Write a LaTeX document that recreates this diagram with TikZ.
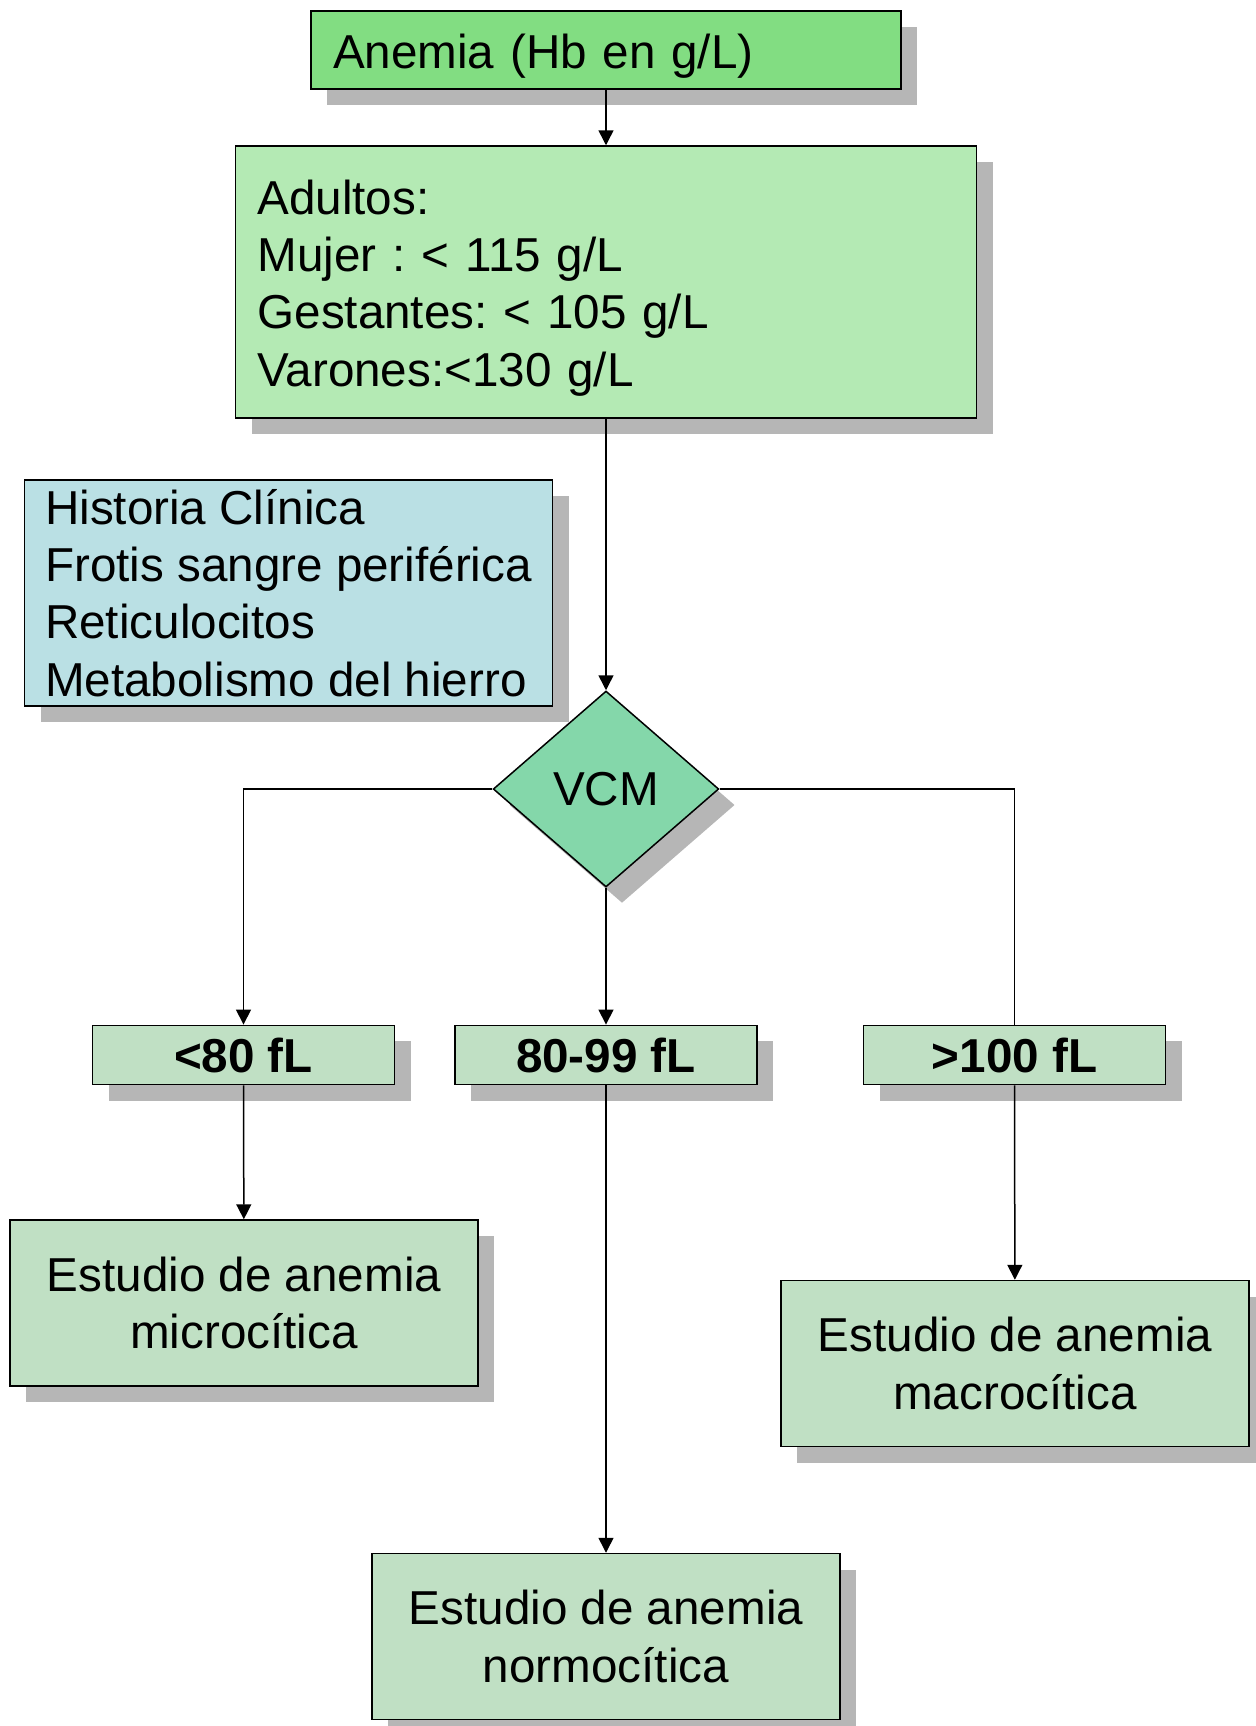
\documentclass[tikz,border=0pt]{standalone}
\usepackage{fontspec}
\setmainfont{Liberation Sans}
\frenchspacing
\usetikzlibrary{shapes.geometric, shadows, arrows.meta, positioning}

\definecolor{verdeAnemia}{RGB}{130,221,130}
\definecolor{verdeAdulto}{RGB}{180,234,180}
\definecolor{azulHistoria}{RGB}{186,224,228}
\definecolor{verdeVCM}{RGB}{132,215,170}
\definecolor{verdeRango}{RGB}{192,224,196}
\definecolor{sombra}{RGB}{182,182,182}

\begin{document}
\begin{tikzpicture}[x=0.5pt,y=-0.5pt,->,>={Triangle[width=7.5pt,length=7.5pt]},line width=0.75pt,
        caja/.style={draw,rectangle,line width=0.75pt,inner sep=0pt,
          drop shadow={shadow xshift=8pt,shadow yshift=-8pt,fill=sombra,opacity=1},
          font=\fontsize{23.8}{28.65}\selectfont},
        rango/.style={caja,fill=verdeRango,minimum width=151pt,minimum height=29.7pt,
          font=\fontsize{23.8}{28.65}\selectfont\bfseries},
        estudio/.style={caja,fill=verdeRango,minimum width=234pt,minimum height=83pt,align=center}]

  \useasboundingbox (0,0) rectangle (1255,1726);

  \node[caja,fill=verdeAnemia,minimum height=39pt,text width=273pt,inner xsep=11pt,align=left]
        (Anemia) at (606,50) {\rule{0pt}{23pt}Anemia (Hb en g/L)};
  \node[caja,fill=verdeAdulto,minimum height=136pt,text width=348.5pt,inner xsep=11pt,align=left]
        (Adultos) at (606,282) {\rule{0pt}{23pt}Adultos:\\Mujer : < 115 g/L\\Gestantes: < 105 g/L\\Varones:<130 g/L};
  \node[caja,fill=azulHistoria,minimum width=264pt,minimum height=113pt,align=left]
        (Historia) at (288.5,593) {Historia Clínica\\Frotis sangre periférica\\Reticulocitos\\Metabolismo del hierro};
  \node[caja,diamond,fill=verdeVCM,aspect=1.15,minimum width=112.8pt,minimum height=98pt]
        (VCM) at (606,789) {VCM};

  \node[rango] (Micro) at (243.5,1055) {<80 fL};
  \node[rango] (Normo) at (606,1055) {80-99 fL};
  \node[rango] (Macro) at (1014.5,1055) {>100 fL};

  \node[estudio] (MicroEst) at (244,1303) {Estudio de anemia\\microcítica};
  \node[estudio] (MacroEst) at (1015,1363.5) {Estudio de anemia\\macrocítica};
  \node[estudio] (NormoEst) at (606,1636.5) {Estudio de anemia\\normocítica};

  \path (Anemia) edge (Adultos)
        (Adultos) edge (VCM)
        (VCM) edge (Normo)
        (Micro) edge (MicroEst)
        (Normo) edge (NormoEst)
        (Macro) edge (MacroEst);
  \draw (VCM.west) -| (Micro);
  \draw[-] (VCM.east) -| (Macro);

\end{tikzpicture}
\end{document}
